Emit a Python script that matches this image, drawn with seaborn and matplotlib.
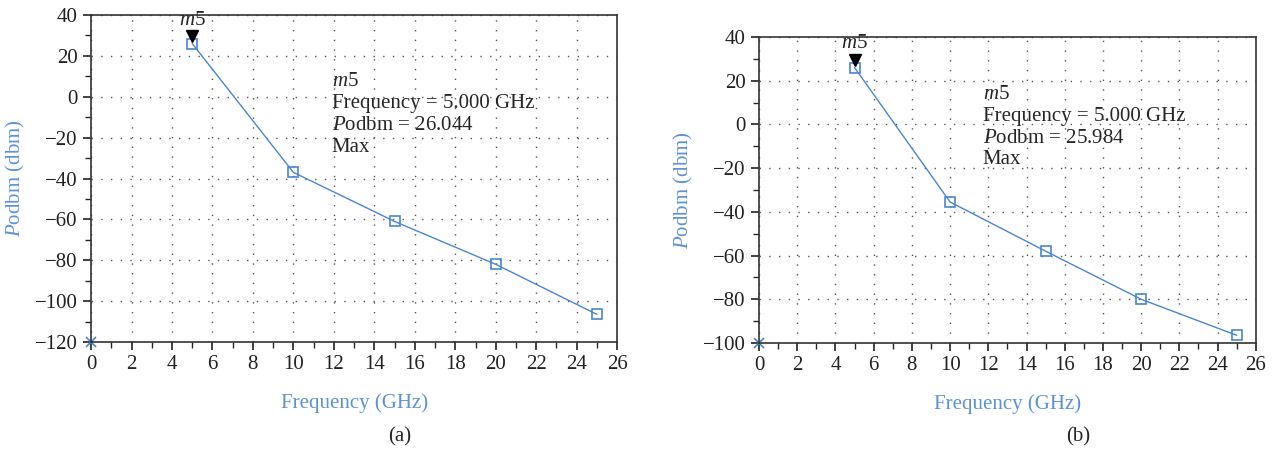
import matplotlib
matplotlib.use("Agg")
import matplotlib.pyplot as plt
import pandas as pd
import seaborn as sns
from matplotlib.ticker import MultipleLocator

freq = [5, 10, 15, 20, 25]
pod_a = [26.044, -37.0, -61.0, -82.0, -106.5]
pod_b = [25.984, -35.5, -58.0, -80.0, -96.5]
ylims = [(-120, 40), (-100, 40)]
max_text = ["26.044", "25.984"]
panel_labels = ["(a)", "(b)"]

sns.set_style("ticks")
plt.rcParams["font.family"] = ["Liberation Serif", "DejaVu Serif"]
plt.rcParams["mathtext.fontset"] = "custom"
plt.rcParams["mathtext.rm"] = "Liberation Serif"
plt.rcParams["mathtext.it"] = "Liberation Serif:italic"

blue = "#4a86d0"
label_blue = "#5b93d6"

fig = plt.figure(figsize=(12.77, 4.51), dpi=100)
ax_a = fig.add_axes([0.0713, 0.2417, 0.412, 0.725])
ax_b = fig.add_axes([0.5944, 0.2395, 0.389, 0.6785])

annot_pos = [(11.9, 12.0), (11.7, 18.0)]
label_x = [0.313, 0.844]

for ax, vals, ylim, mtxt, plabel, apos, lx in zip(
        [ax_a, ax_b], [pod_a, pod_b], ylims, max_text, panel_labels,
        annot_pos, label_x):
    df = pd.DataFrame({"freq": freq, "pod": vals})
    sns.lineplot(data=df, x="freq", y="pod", ax=ax, color=blue, lw=1.0,
                 marker="s", markersize=7, markerfacecolor="none",
                 markeredgecolor=blue, markeredgewidth=1.2)
    ax.set_xlim(0, 26)
    ax.set_ylim(*ylim)
    ax.xaxis.set_major_locator(MultipleLocator(2))
    ax.xaxis.set_minor_locator(MultipleLocator(1))
    ax.yaxis.set_major_locator(MultipleLocator(20))
    ax.yaxis.set_minor_locator(MultipleLocator(10))
    ax.tick_params(which="major", direction="out", length=6, width=1.2,
                   labelsize=15, colors="#222222")
    ax.tick_params(which="minor", direction="out", length=4, width=1.0)
    for s in ax.spines.values():
        s.set_linewidth(1.2)
        s.set_color("#333333")
    ax.grid(True, which="major", color="#555555", linestyle=(0, (1, 6)), lw=1.0)

    ax.set_xlabel("Frequency (GHz)", color=label_blue, fontsize=15, labelpad=14)
    ax.set_ylabel(r"$\it{P}$odbm (dbm)", color=label_blue, fontsize=15, labelpad=6)

    # marker at origin
    ax.plot([0], [ylim[0]], marker="x", color=blue, ms=7, mew=1.2, clip_on=False)
    # max marker
    ax.plot([freq[0]], [vals[0] + 3.5], marker="v", color="black", ms=8)
    ax.text(freq[0], vals[0] + 6.5, r"$\it{m}$5", ha="center", va="bottom",
            fontsize=15)
    ax.text(apos[0], apos[1],
            r"$\it{m}$5" + "\nFrequency = 5.000 GHz\n" + r"$\it{P}$odbm = " + mtxt + "\nMax",
            ha="left", va="top", fontsize=15, linespacing=1.2)
    fig.text(lx, 0.031, plabel, ha="center", va="center", fontsize=15)

fig.savefig("out.png", dpi=100)
